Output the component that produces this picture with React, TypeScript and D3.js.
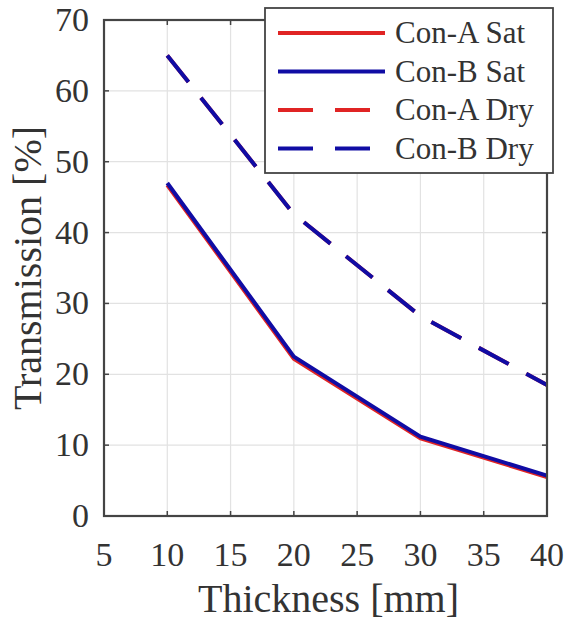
import React from "react";
import * as d3 from "d3";

const thickness = [10, 20, 30, 40];
const conASat = [46.7, 22.2, 10.95, 5.5];
const conBSat = [47.0, 22.5, 11.2, 5.7];
const conADry = [65.0, 42.6, 28.2, 18.5];
const conBDry = [65.0, 42.6, 28.2, 18.5];
const xTicks = [5, 10, 15, 20, 25, 30, 35, 40];
const yTicks = [0, 10, 20, 30, 40, 50, 60, 70];
const seriesNames = ["Con-A Sat", "Con-B Sat", "Con-A Dry", "Con-B Dry"];

const RED = "#e02424";
const BLUE = "#100ca4";
const FONT = "'Liberation Serif', 'Times New Roman', serif";

export default function App() {
  const W = 573, H = 626;
  const L = 104, R = 547, T = 20, B = 516;
  const x = d3.scaleLinear().domain([5, 40]).range([L, R]);
  const y = d3.scaleLinear().domain([0, 70]).range([B, T]);
  const line = d3.line<number>().x((_, i) => x(thickness[i])).y((d) => y(d));

  const series = [
    { name: seriesNames[2], data: conADry, color: RED, dash: "34 20" },
    { name: seriesNames[3], data: conBDry, color: BLUE, dash: "34 20" },
    { name: seriesNames[0], data: conASat, color: RED, dash: null },
    { name: seriesNames[1], data: conBSat, color: BLUE, dash: null },
  ];
  const legend = [
    { name: seriesNames[0], color: RED, dash: null },
    { name: seriesNames[1], color: BLUE, dash: null },
    { name: seriesNames[2], color: RED, dash: "35 22" },
    { name: seriesNames[3], color: BLUE, dash: "35 22" },
  ];
  const axisColor = "#444";

  return (
    <svg width={W} height={H} style={{ position: "absolute", left: 0, top: 0, background: "#fff" }}>
      <rect x={0} y={0} width={W} height={H} fill="#fff" />
      {/* grid */}
      {xTicks.map((t) => (
        <line key={"gx" + t} x1={x(t)} x2={x(t)} y1={T} y2={B} stroke="#e2e2e2" strokeWidth={1.2} />
      ))}
      {yTicks.map((t) => (
        <line key={"gy" + t} x1={L} x2={R} y1={y(t)} y2={y(t)} stroke="#e2e2e2" strokeWidth={1.2} />
      ))}
      {/* ticks */}
      {xTicks.map((t) => (
        <g key={"tx" + t}>
          <line x1={x(t)} x2={x(t)} y1={B} y2={B - 5} stroke={axisColor} strokeWidth={1.5} />
          <line x1={x(t)} x2={x(t)} y1={T} y2={T + 5} stroke={axisColor} strokeWidth={1.5} />
        </g>
      ))}
      {yTicks.map((t) => (
        <g key={"ty" + t}>
          <line x1={L} x2={L + 5} y1={y(t)} y2={y(t)} stroke={axisColor} strokeWidth={1.5} />
          <line x1={R} x2={R - 5} y1={y(t)} y2={y(t)} stroke={axisColor} strokeWidth={1.5} />
        </g>
      ))}
      {/* lines */}
      {series.map((s) => (
        <path
          key={s.name}
          d={line(s.data) || ""}
          fill="none"
          stroke={s.color}
          strokeWidth={4}
          strokeDasharray={s.dash || undefined}
          strokeLinejoin="round"
        />
      ))}
      {/* box */}
      <rect x={L} y={T} width={R - L} height={B - T} fill="none" stroke={axisColor} strokeWidth={2.2} />
      {/* tick labels */}
      {xTicks.map((t) => (
        <text key={"lx" + t} x={x(t)} y={B + 50} textAnchor="middle" fontFamily={FONT} fontSize={34} fill="#333">
          {t}
        </text>
      ))}
      {yTicks.map((t) => (
        <text key={"ly" + t} x={L - 15} y={y(t) + 11} textAnchor="end" fontFamily={FONT} fontSize={34} fill="#333">
          {t}
        </text>
      ))}
      {/* axis labels */}
      <text x={(L + R) / 2 + 3} y={612} textAnchor="middle" fontFamily={FONT} fontSize={40} fill="#333">
        Thickness [mm]
      </text>
      <text
        transform={`translate(41, ${(T + B) / 2}) rotate(-90)`}
        textAnchor="middle"
        fontFamily={FONT}
        fontSize={40}
        fill="#333"
      >
        Transmission [%]
      </text>
      {/* legend */}
      <rect x={265} y={8} width={288} height={165} fill="#fff" stroke={axisColor} strokeWidth={1.8} />
      {legend.map((l, i) => {
        const ly = 33 + i * 38.5;
        return (
          <g key={"lg" + l.name}>
            <line x1={278} x2={385} y1={ly} y2={ly} stroke={l.color} strokeWidth={4} strokeDasharray={l.dash || undefined} />
            <text x={395} y={ly + 10} fontFamily={FONT} fontSize={31} fill="#333">
              {l.name}
            </text>
          </g>
        );
      })}
    </svg>
  );
}
